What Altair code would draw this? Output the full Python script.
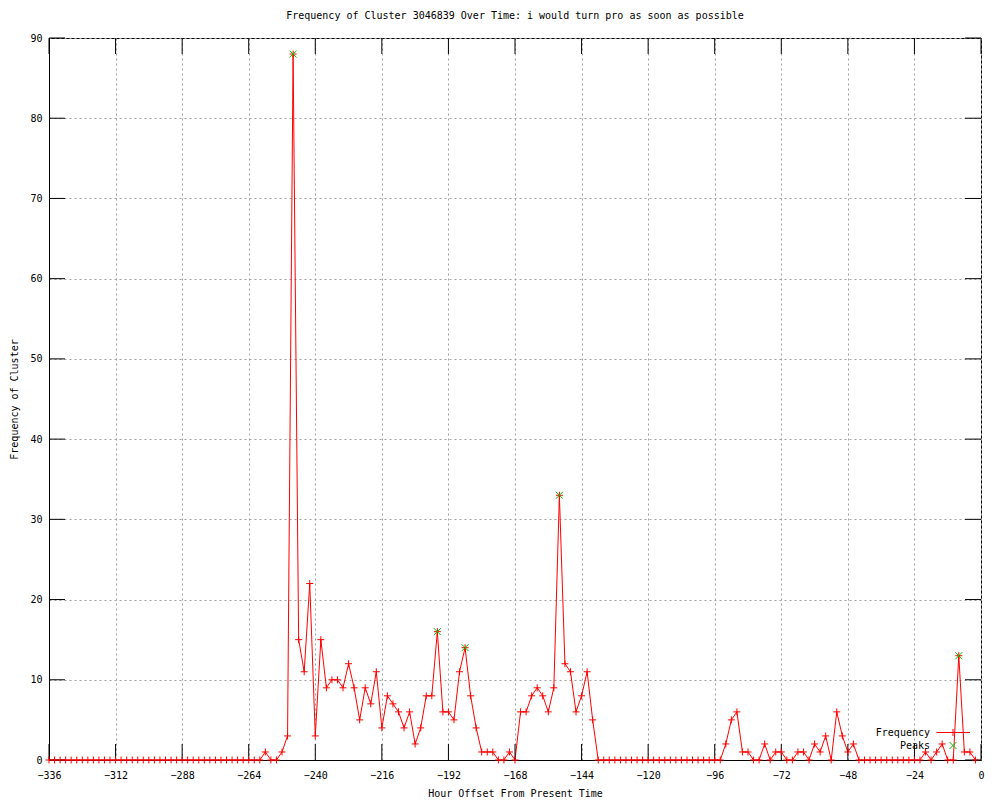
import altair as alt
import pandas as pd

# ---------------- data ----------------
hours = list(range(-336, 0, 2))
freq = (
    [0] * 39
    + [1, 0, 0, 1, 3, 88, 15, 11, 22, 3, 15, 9, 10, 10, 9, 12, 9, 5, 9, 7,
       11, 4, 8, 7, 6, 4, 6, 2, 4, 8, 8, 16, 6, 6, 5, 11, 14, 8, 4, 1,
       1, 1, 0, 0, 1, 0, 6, 6, 8, 9, 8, 6, 9, 33, 12, 11, 6, 8, 11, 5]
    + [0] * 23
    + [2, 5, 6, 1, 1, 0, 0, 2, 0, 1, 1, 0, 0, 1, 1, 0, 2, 1, 3, 0, 6, 3, 1, 2]
    + [0] * 12
    + [1, 0, 1, 2, 0, 0, 13, 1, 1, 0]
)
peak_hours = [-248, -196, -186, -152, -8]
peak_values = [88, 16, 14, 33, 13]
x_ticks = list(range(-336, 1, 24))
y_ticks = list(range(0, 91, 10))
legend_labels = ["Frequency", "Peaks"]

title_text = "Frequency of Cluster 3046839 Over Time: i would turn pro as soon as possible"
x_title = "Hour Offset From Present Time"
y_title = "Frequency of Cluster"

FONT = "DejaVu Sans Mono"
W, H = 932, 722
TICK = 16
RED = "#ff0000"
GREEN = "#00c000"
GRID = "#a0a0a0"
PLUS = "M-1,0L1,0M0,-1L0,1"
XSHAPE = "M-1,-1L1,1M-1,1L1,-1"

df = pd.DataFrame({"hour": hours, "freq": freq})
pk = pd.DataFrame({"hour": peak_hours, "freq": peak_values})
xt = pd.DataFrame({"hour": x_ticks})
yt = pd.DataFrame({"freq": y_ticks})
lg1 = pd.DataFrame({"label": [legend_labels[0]]})
lg2 = pd.DataFrame({"label": [legend_labels[1]]})

xs = alt.Scale(domain=[-336, 0], nice=False, zero=False)
ys = alt.Scale(domain=[0, 90], nice=False)

common_axis = dict(
    grid=True, ticks=False, gridColor=GRID, gridDash=[2, 3], gridWidth=1,
    gridOpacity=1, labelFont=FONT, labelFontSize=10, labelColor="black",
    titleFont=FONT, titleFontSize=10, titleFontWeight="normal",
    titleColor="black", domainColor="black", domainWidth=1,
    labelFlush=False, labelOverlap=False,
)
x_axis = alt.Axis(
    values=x_ticks, title=x_title, labelPadding=10,
    titleX=W / 2, titleY=36.5, titleBaseline="alphabetic", titleAlign="center",
    **common_axis,
)
y_axis = alt.Axis(
    values=y_ticks, title=y_title, labelPadding=7,
    titleX=-35, titleY=H / 2, titleAngle=270, titleAlign="center",
    titleBaseline="middle", **common_axis,
)


def X():
    return alt.X("hour:Q", scale=xs, axis=x_axis)


def Y():
    return alt.Y("freq:Q", scale=ys, axis=y_axis)


line = alt.Chart(df).mark_line(color=RED, strokeWidth=1).encode(x=X(), y=Y())
pts = alt.Chart(df).mark_point(
    shape=PLUS, filled=False, stroke=RED, strokeWidth=1, size=49, opacity=1
).encode(x=X(), y=Y())
peaks = alt.Chart(pk).mark_point(
    shape=XSHAPE, filled=False, stroke=GREEN, strokeWidth=1, size=49, opacity=1
).encode(x=X(), y=Y())

# gnuplot-style inward ticks on all four sides
tb = alt.Chart(xt).mark_rule(color="black", strokeWidth=1).encode(
    x=X(), y=alt.value(H), y2=alt.value(H - TICK))
tt = alt.Chart(xt).mark_rule(color="black", strokeWidth=1).encode(
    x=X(), y=alt.value(0), y2=alt.value(TICK))
tl = alt.Chart(yt).mark_rule(color="black", strokeWidth=1).encode(
    y=Y(), x=alt.value(0), x2=alt.value(TICK))
tr = alt.Chart(yt).mark_rule(color="black", strokeWidth=1).encode(
    y=Y(), x=alt.value(W - TICK), x2=alt.value(W))

# legend (gnuplot style: text then sample)
LX = 881
LY1, LY2 = 694.5, 708
leg_t1 = alt.Chart(lg1).mark_text(font=FONT, fontSize=10, align="right",
                                   baseline="middle", color="black").encode(
    text="label:N", x=alt.value(LX), y=alt.value(LY1))
leg_t2 = alt.Chart(lg2).mark_text(font=FONT, fontSize=10, align="right",
                                   baseline="middle", color="black").encode(
    text="label:N", x=alt.value(LX), y=alt.value(LY2))
leg_line = alt.Chart(lg1).mark_rule(color=RED, strokeWidth=1).encode(
    x=alt.value(887.5), x2=alt.value(921), y=alt.value(LY1))
leg_plus = alt.Chart(lg1).mark_point(shape=PLUS, filled=False, stroke=RED,
                                     strokeWidth=1, size=49, opacity=1).encode(
    x=alt.value(904), y=alt.value(LY1))
leg_x = alt.Chart(lg2).mark_point(shape=XSHAPE, filled=False, stroke=GREEN,
                                  strokeWidth=1, size=49, opacity=1).encode(
    x=alt.value(904), y=alt.value(LY2 - 0.5))

chart = alt.layer(
    line, tb, tt, tl, tr, pts, peaks, leg_t1, leg_t2, leg_line, leg_plus, leg_x
).properties(
    width=W, height=H,
    background="white",
    autosize=alt.AutoSizeParams(type="none"),
    padding={"left": 41, "top": 30, "right": 11, "bottom": 38},
    title=alt.TitleParams(
        text=title_text, font=FONT, fontSize=10, fontWeight="normal",
        anchor="middle", frame="group", baseline="alphabetic", offset=4,
        color="black",
    ),
).configure_view(
    stroke="black", strokeWidth=1
)

chart.save("out.html", embed_options={"renderer": "svg", "actions": False})
